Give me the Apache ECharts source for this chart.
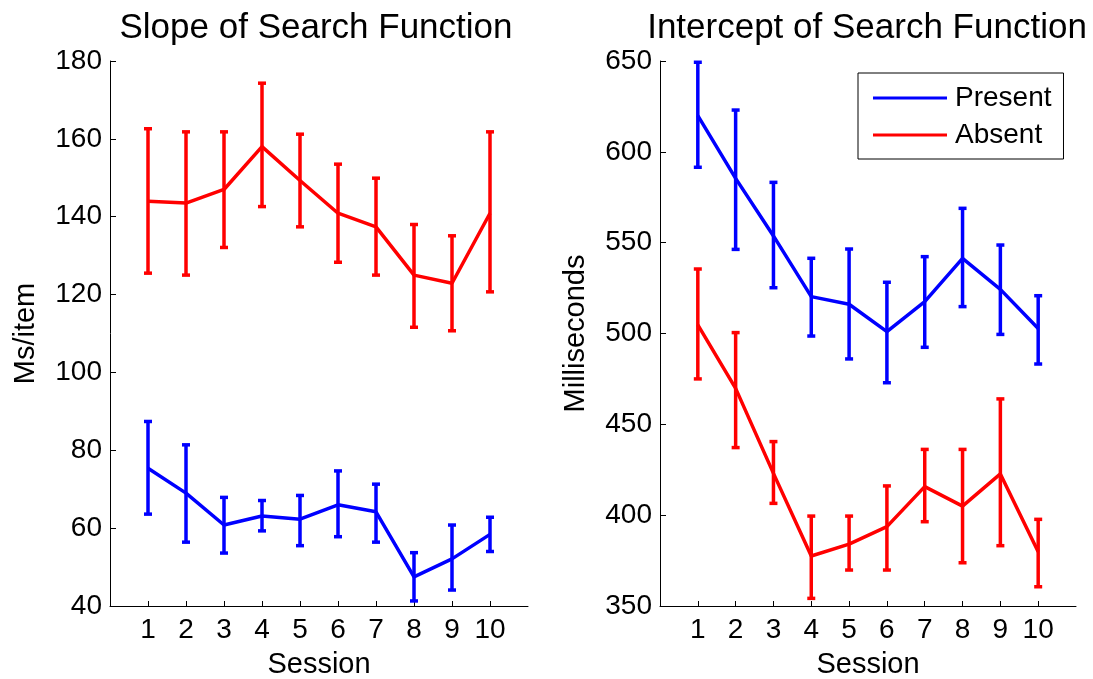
<!DOCTYPE html>
<html>
<head>
<meta charset="utf-8">
<script src="https://cdn.jsdelivr.net/npm/echarts@6/dist/echarts.min.js"></script>
<style>
html,body{margin:0;padding:0;background:#fff;overflow:hidden;}
#chart{width:1093px;height:679px;}
</style>
</head>
<body>
<div id="chart"></div>
<script>
var sessions = [1, 2, 3, 4, 5, 6, 7, 8, 9, 10];

var slopePresentMean = [75.4, 69.0, 60.8, 63.1, 62.3, 66.0, 64.2, 47.5, 52.1, 58.4];
var slopePresentLow  = [63.6, 56.4, 53.6, 59.3, 55.5, 57.8, 56.4, 41.3, 44.1, 54.0];
var slopePresentHigh = [87.4, 81.4, 67.9, 67.1, 68.4, 74.7, 71.3, 53.7, 60.8, 62.8];

var slopeAbsentMean = [144.0, 143.5, 147.0, 158.0, 149.3, 140.9, 137.4, 125.0, 122.9, 140.9];
var slopeAbsentLow  = [125.5, 125.0, 132.1, 142.6, 137.4, 128.3, 125.0, 111.6, 110.7, 120.7];
var slopeAbsentHigh = [162.6, 161.8, 161.8, 174.3, 161.2, 153.5, 149.9, 138.0, 135.1, 161.8];

var interceptPresentMean = [619.9, 585.4, 553.7, 520.3, 516.1, 501.0, 517.5, 541.4, 524.3, 502.8];
var interceptPresentLow  = [591.5, 546.3, 525.2, 498.6, 486.0, 472.9, 492.4, 514.8, 499.5, 483.2];
var interceptPresentHigh = [649.3, 623.0, 583.2, 541.4, 546.5, 528.2, 542.3, 568.9, 548.7, 520.8];

var interceptAbsentMean = [504.7, 469.8, 423.0, 377.5, 384.1, 393.7, 415.7, 405.0, 422.7, 379.9];
var interceptAbsentLow  = [475.0, 437.2, 406.5, 354.2, 369.8, 369.8, 396.4, 373.8, 383.2, 360.6];
var interceptAbsentHigh = [535.5, 500.5, 440.5, 399.5, 399.5, 416.1, 436.2, 436.2, 464.0, 397.7];

var titles = ['Slope of Search Function', 'Intercept of Search Function'];
var yNames = ['Ms/item', 'Milliseconds'];
var xName = 'Session';
var seriesNames = ['Present', 'Absent'];
var slopeTicks = {min: 40, max: 180, interval: 20};
var interceptTicks = {min: 350, max: 650, interval: 50};

var BLUE = '#0000ff', RED = '#ff0000';
var FONT = '"Liberation Sans", Arial, Helvetica, sans-serif';

function pairs(xs, ys) { return xs.map(function (x, i) { return [x, ys[i]]; }); }
function triples(xs, lo, hi) { return xs.map(function (x, i) { return [x, lo[i], hi[i]]; }); }

function errRender(color) {
  return function (params, api) {
    var x = api.value(0);
    var lo = api.coord([x, api.value(1)]);
    var hi = api.coord([x, api.value(2)]);
    var cw = 4;
    var style = {stroke: color, lineWidth: 3.5, fill: null};
    return {
      type: 'group',
      children: [
        {type: 'line', shape: {x1: lo[0], y1: lo[1], x2: hi[0], y2: hi[1]}, style: style},
        {type: 'line', shape: {x1: lo[0] - cw, y1: lo[1], x2: lo[0] + cw, y2: lo[1]}, style: style},
        {type: 'line', shape: {x1: hi[0] - cw, y1: hi[1], x2: hi[0] + cw, y2: hi[1]}, style: style}
      ]
    };
  };
}

function xAxisDef(gi) {
  return {
    type: 'value', gridIndex: gi, min: 0, max: 11, interval: 1,
    name: xName, nameLocation: 'middle', nameGap: 44,
    nameTextStyle: {color: '#000', fontSize: 29, fontFamily: FONT},
    axisLine: {show: true, lineStyle: {color: '#000', width: 1}},
    axisTick: {show: true, inside: true, length: 5, customValues: sessions, lineStyle: {color: '#000'}},
    axisLabel: {show: true, color: '#000', fontSize: 28, fontFamily: FONT, margin: 10, customValues: sessions},
    splitLine: {show: false}
  };
}
function yAxisDef(gi, t, name) {
  return {
    type: 'value', gridIndex: gi, min: t.min, max: t.max, interval: t.interval,
    name: name, nameLocation: 'middle', nameGap: 70, nameRotate: 90,
    nameTextStyle: {color: '#000', fontSize: 29, fontFamily: FONT},
    axisLine: {show: true, lineStyle: {color: '#000', width: 1}},
    axisTick: {show: true, inside: true, length: 6, lineStyle: {color: '#000'}},
    axisLabel: {color: '#000', fontSize: 28, fontFamily: FONT, margin: 8},
    splitLine: {show: false}
  };
}
function lineSeries(name, gi, data, color) {
  return {
    type: 'line', name: name, xAxisIndex: gi, yAxisIndex: gi,
    data: data, showSymbol: false, symbol: 'none', animation: false,
    lineStyle: {color: color, width: 3.5}, itemStyle: {color: color}, z: 3
  };
}
function errSeries(name, gi, data, color) {
  return {
    type: 'custom', name: name + ' error', xAxisIndex: gi, yAxisIndex: gi,
    data: data, renderItem: errRender(color), animation: false,
    itemStyle: {color: color}, z: 2, encode: {x: 0, y: [1, 2]}
  };
}

var chart = echarts.init(document.getElementById('chart'), null, {renderer: 'canvas'});
chart.setOption({
  backgroundColor: '#fff',
  animation: false,
  title: [
    {text: titles[0], left: 311, top: 6, textAlign: 'center',
     textStyle: {color: '#000', fontSize: 35, fontWeight: 'normal', fontFamily: FONT}},
    {text: titles[1], left: 862, top: 6, textAlign: 'center',
     textStyle: {color: '#000', fontSize: 35, fontWeight: 'normal', fontFamily: FONT}}
  ],
  legend: {
    data: [
      {name: seriesNames[0], itemStyle: {color: BLUE}},
      {name: seriesNames[1], itemStyle: {color: RED}}
    ],
    icon: 'rect',
    orient: 'vertical', left: 858, top: 73,
    padding: [11, 12, 10, 15],
    itemWidth: 74, itemHeight: 3, itemGap: 9,
    borderColor: '#000', borderWidth: 1, backgroundColor: '#fff',
    textStyle: {color: '#000', fontSize: 28, fontFamily: FONT, padding: [0, 0, 0, 3]},
    selectedMode: false
  },
  grid: [
    {left: 110, top: 61, width: 418, height: 545, outerBoundsMode: 'none', containLabel: false},
    {left: 660, top: 61, width: 416, height: 545, outerBoundsMode: 'none', containLabel: false}
  ],
  xAxis: [xAxisDef(0), xAxisDef(1)],
  yAxis: [yAxisDef(0, slopeTicks, yNames[0]), yAxisDef(1, interceptTicks, yNames[1])],
  series: [
    errSeries(seriesNames[1], 0, triples(sessions, slopeAbsentLow, slopeAbsentHigh), RED),
    lineSeries(seriesNames[1], 0, pairs(sessions, slopeAbsentMean), RED),
    errSeries(seriesNames[0], 0, triples(sessions, slopePresentLow, slopePresentHigh), BLUE),
    lineSeries(seriesNames[0], 0, pairs(sessions, slopePresentMean), BLUE),
    errSeries(seriesNames[0], 1, triples(sessions, interceptPresentLow, interceptPresentHigh), BLUE),
    lineSeries(seriesNames[0], 1, pairs(sessions, interceptPresentMean), BLUE),
    errSeries(seriesNames[1], 1, triples(sessions, interceptAbsentLow, interceptAbsentHigh), RED),
    lineSeries(seriesNames[1], 1, pairs(sessions, interceptAbsentMean), RED)
  ]
});
</script>
</body>
</html>
